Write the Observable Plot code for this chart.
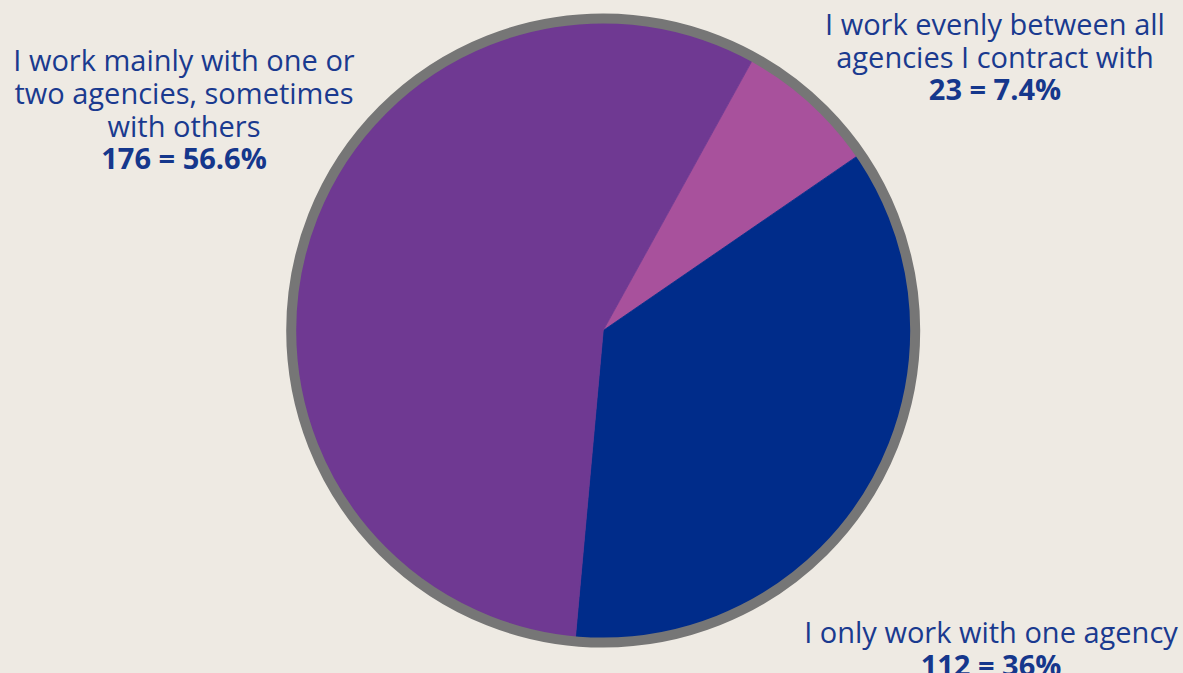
<!DOCTYPE html>
<html><head><meta charset="utf-8">
<script src="https://cdn.jsdelivr.net/npm/d3@7"></script>
<script src="https://cdn.jsdelivr.net/npm/@observablehq/plot@0.6"></script>
<style>
html,body{margin:0;padding:0;background:#eeeae3;}
#chart{width:1183px;height:673px;overflow:hidden;}
#chart svg{display:block;}
</style></head><body><div id="chart"></div>
<script>
// ---- data ----
const categories = [
  "I work evenly between all agencies I contract with",
  "I only work with one agency",
  "I work mainly with one or two agencies, sometimes with others"
];
const counts = [23, 112, 176];
const percents = ["7.4%", "36%", "56.6%"];
const labelLines = [
  "I work evenly between all\nagencies I contract with",
  "I only work with one agency",
  "I work mainly with one or\ntwo agencies, sometimes\nwith others"
];
const sliceColors = ["#a8519c", "#002c8a", "#6f3992"];

// ---- layout (pixels) ----
const W = 1183, H = 673, CX = 602.7, CY = 330, R = 312;
const START = 28.9 * Math.PI / 180;
const labelLayout = [
  {cx: 994.5, base: 99, gap: 32, line: 32.5},
  {cx: 990.5, base: 675, gap: 33, line: 33},
  {cx: 183.5, base: 168, gap: 32, line: 33}
];
const FS = 29, FSB = 29;
const toX = px => (px - CX) / R;
const toY = py => (CY - py) / R;

const rows = categories.map((c, i) => ({key: c, count: counts[i], pct: percents[i], color: sliceColors[i], lines: labelLines[i]}));
const arcs = d3.pie().sort(null).value(d => d.count).startAngle(START).endAngle(START + 2 * Math.PI)(rows);

const poly = arcs.flatMap(a => {
  const n = Math.max(2, Math.ceil((a.endAngle - a.startAngle) / (Math.PI / 360)));
  const pts = [{key: a.data.key, color: a.data.color, x: 0, y: 0}];
  for (let k = 0; k <= n; k++) {
    const t = a.startAngle + (a.endAngle - a.startAngle) * k / n;
    pts.push({key: a.data.key, color: a.data.color, x: Math.sin(t), y: Math.cos(t)});
  }
  pts.push({key: a.data.key, color: a.data.color, x: 0, y: 0});
  return pts;
});

const labels = rows.map((d, i) => ({
  text: d.lines,
  value: `${d.count} = ${d.pct}`,
  x: toX(labelLayout[i].cx),
  yb: toY(labelLayout[i].base),
  yr: toY(labelLayout[i].base - labelLayout[i].gap),
  lh: labelLayout[i].line / FS
}));

const textMarks = labels.map(l => Plot.text([l], {x: "x", y: "yr", text: "text", fontSize: FS, fontFamily: "Open Sans", fill: "#1a3a8f",
  textAnchor: "middle", lineAnchor: "bottom", lineHeight: l.lh}));

const chart = Plot.plot({
  width: W, height: H,
  marginTop: 0, marginRight: 0, marginBottom: 0, marginLeft: 0,
  x: {domain: [toX(0), toX(W)], axis: null},
  y: {domain: [toY(H), toY(0)], axis: null},
  color: {type: "identity"},
  style: {background: "transparent", overflow: "visible"},
  marks: [
    Plot.line(poly, {x: "x", y: "y", z: "key", fill: "color", stroke: "color", strokeWidth: 0.8, curve: "linear"}),
    Plot.dot([{x: 0, y: 0}], {x: "x", y: "y", r: R, stroke: "#767676", strokeWidth: 10, fill: "none"}),
    ...textMarks,
    Plot.text(labels, {x: "x", y: "yb", text: "value", fontSize: FSB, fontWeight: "bold", fontFamily: "Open Sans", fill: "#15378c",
      textAnchor: "middle", lineAnchor: "bottom"})
  ]
});
document.getElementById("chart").appendChild(chart);
</script></body></html>
